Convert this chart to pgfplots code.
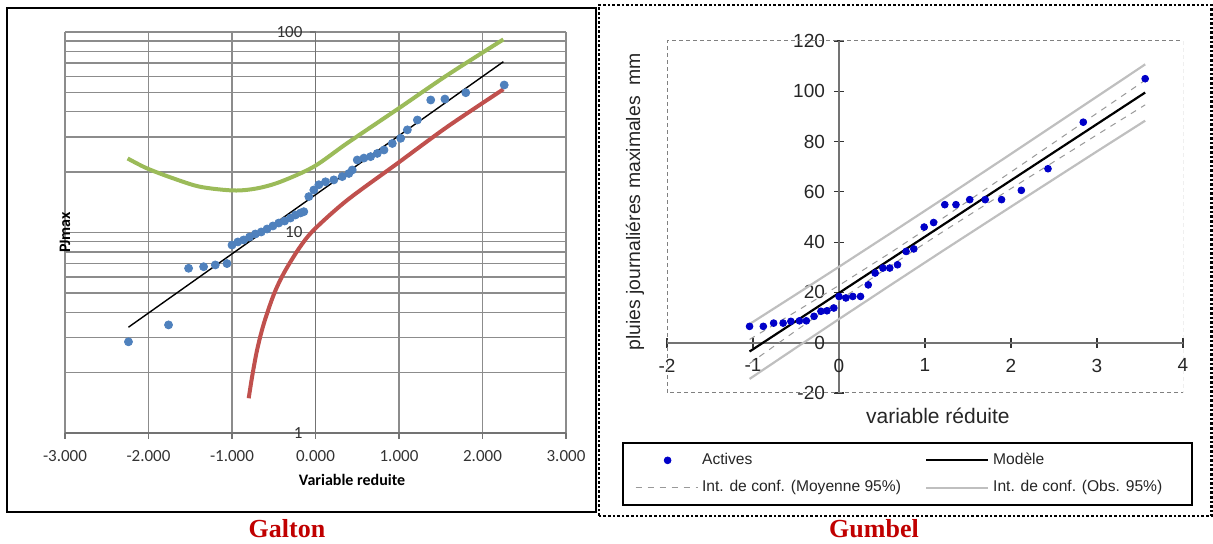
\documentclass[border=0pt]{standalone}
\usepackage{fontspec}
\usepackage{pgfplots}
\pgfplotsset{compat=1.18}
\newfontfamily\carlito{Carlito}
\newfontfamily\arialf{Liberation Sans}
\newfontfamily\timesf{Liberation Serif}
\definecolor{galtonblue}{RGB}{79,129,189}
\definecolor{galtongreen}{RGB}{155,187,89}
\definecolor{galtonred}{RGB}{192,80,77}
\definecolor{actblue}{RGB}{0,0,200}
\definecolor{titlered}{RGB}{192,0,0}
\pgfplotsset{
  longline legend/.style={legend image code/.code={\draw[##1] (0pt,0pt) -- (31pt,0pt);}},
  longmark legend/.style={legend image code/.code={\draw[mark repeat=2,mark phase=2,##1] plot coordinates {(0pt,0pt) (16pt,0pt) (32pt,0pt)};}},
}

\begin{document}
\begin{tikzpicture}
\useasboundingbox (0,0) rectangle (606.5pt,272pt);

% panel frames and titles
\draw[line width=1.1pt] (3.5pt,16pt) rectangle (298pt,268pt);
\draw[line width=1.3pt, densely dotted] (299.5pt,14pt) rectangle (605.8pt,269.5pt);
\node[font=\timesf\bfseries\fontsize{13}{15}\selectfont, text=titlered] at (143.5pt,7.5pt) {Galton};
\node[font=\timesf\bfseries\fontsize{13}{15}\selectfont, text=titlered] at (437pt,7.5pt) {Gumbel};

% ---------------- Galton ----------------
\begin{axis}[
  at={(32.5pt,55.5pt)}, anchor=south west,
  scale only axis, width=250.5pt, height=200.5pt,
  xmin=-3, xmax=3, ymin=1, ymax=100, ymode=log,
  axis x line=bottom, axis y line=center,
  axis line style={-, draw=black!55, line width=0.9pt},
  hide obscured x ticks=false, hide obscured y ticks=false,
  xtick={-3,-2,-1,0,1,2,3},
  xticklabels={-3.000,-2.000,-1.000,0.000,1.000,2.000,3.000},
  ytick={1,10,100}, yticklabels={1,10,100},
  minor ytick={2,3,4,5,6,7,8,9,20,30,40,50,60,70,80,90},
  xmajorgrids, ymajorgrids, yminorgrids,
  major grid style={draw=black!45, line width=0.7pt},
  minor grid style={draw=black!45, line width=0.7pt},
  tick align=outside, major tick length=3pt, minor tick length=0pt,
  tick style={draw=black!55, line width=0.7pt},
  ticklabel style={font=\carlito\fontsize{8.5}{10}\selectfont, text=black!80},
  /pgf/number format/assume math mode=true,
  xticklabel style={yshift=-2pt},
  every axis x label/.style={at={(axis description cs:0.573,0)}, anchor=center, yshift=-23.5pt, font=\carlito\bfseries\fontsize{8}{9.6}\selectfont},
  every axis y label/.style={at={(axis description cs:0,0.5)}, anchor=center, rotate=90, font=\carlito\bfseries\fontsize{8}{9.6}\selectfont},
  xlabel={Variable reduite}, ylabel={PJmax},
]
\addplot[galtongreen, line width=2pt, smooth] table {
x y
-2.25 23.4
-2.02 20.9
-1.70 18.6
-1.38 16.9
-0.98 16.2
-0.70 16.6
-0.42 17.9
-0.02 21.3
0.38 27.9
1.00 41.7
1.58 61.0
2.25 91.8
};
\addplot[galtonred, line width=2pt, smooth] table {
x y
-0.80 1.49
-0.76 1.90
-0.70 2.59
-0.62 3.50
-0.50 4.90
-0.38 6.26
-0.20 8.30
-0.02 10.3
0.38 14.5
0.98 22.1
1.58 33.7
2.25 51.8
};
\addplot[only marks, mark=*, mark size=2pt, galtonblue] table {
x y
-2.24 2.85
-1.76 3.46
-1.52 6.63
-1.34 6.75
-1.20 6.89
-1.06 7.00
-1.00 8.66
-0.93 8.97
-0.86 9.18
-0.79 9.50
-0.72 9.83
-0.65 10.06
-0.58 10.41
-0.51 10.78
-0.44 11.15
-0.37 11.41
-0.30 11.81
-0.24 12.23
-0.18 12.51
-0.14 12.7
-0.08 15.1
-0.02 16.3
0.04 17.3
0.12 17.9
0.22 18.3
0.32 19.0
0.40 19.7
0.44 20.5
0.50 23.0
0.58 23.5
0.66 23.9
0.74 24.8
0.82 25.8
0.92 27.8
1.02 29.5
1.10 32.5
1.22 36.4
1.38 45.8
1.55 46.3
1.80 49.8
2.26 54.4
};
\addplot[black, line width=0.7pt] table {
x y
-2.24 3.37
2.25 71.1
};
\end{axis}

% ---------------- Gumbel ----------------
\begin{axis}[
  at={(333.5pt,75.5pt)}, anchor=south west,
  scale only axis, width=258pt, height=176pt,
  xmin=-2, xmax=4, ymin=-20, ymax=120,
  axis lines=center, axis line style={-, draw=black!55, line width=1pt},
  hide obscured x ticks=false, hide obscured y ticks=false,
  xtick={-2,-1,0,1,2,3,4}, ytick={-20,0,20,40,60,80,100,120},
  tick align=center, major tick length=5pt,
  tick style={draw=black!80, line width=0.6pt},
  ticklabel style={font=\arialf\fontsize{9.5}{11}\selectfont, text=black!85},
  /pgf/number format/assume math mode=true,
  xticklabel style={yshift=-2pt}, yticklabel style={xshift=-1pt},
  every axis x label/.style={at={(axis description cs:0.525,0)}, anchor=center, yshift=-11.5pt, font=\arialf\fontsize{10.5}{12}\selectfont, text=black!85},
  every axis y label/.style={at={(axis description cs:-0.062,0.543)}, anchor=center, rotate=90, font=\arialf\fontsize{9.7}{11}\selectfont, text=black!85},
  xlabel={variable réduite}, ylabel={pluies journaliéres maximales\ \ mm},
  legend columns=2, legend cell align=left,
  legend style={at={(-0.0872,-0.1392)}, anchor=north west, draw=black, line width=1.1pt,
    font=\arialf\fontsize{7.8}{9}\selectfont, text=black!85, inner xsep=6pt, inner ysep=3pt,
    row sep=2.5pt, /tikz/every even column/.append style={column sep=10pt}},
]
\draw[black!50, dash pattern=on 2pt off 1.5pt, line width=0.5pt] (rel axis cs:0,0) rectangle (rel axis cs:1,1);
\addplot[black!25, line width=1.1pt, forget plot] table {
x y
-1.04 7.4
-0.5 19.2
0 30.2
0.6 43.54
1.2 56.98
2 75.1
3 97.9
3.56 110.7
};
\addplot[black!25, line width=1.1pt, forget plot] table {
x y
-1.04 -14.4
-0.5 -2.0
0 9.4
0.6 22.94
1.2 36.38
2 54.1
3 76.1
3.56 88.3
};
\addplot[black!40, dashed, line width=0.5pt, forget plot] table {
x y
-1.04 1.3
-0.5 12.4
0 22.8
0.6 35.84
1.2 49.38
2 67.9
3 91.3
3.56 104.4
};
\addplot[black!40, dashed, line width=0.5pt, forget plot] table {
x y
-1.04 -8.3
-0.5 4.8
0 16.8
0.6 30.64
1.2 43.98
2 61.3
3 82.7
3.56 94.6
};
\addplot[only marks, mark=*, mark size=1.7pt, actblue, forget plot] table {
x y
-1.04 6.5
-0.88 6.5
-0.76 7.8
-0.65 7.8
-0.56 8.5
-0.46 8.7
-0.38 8.7
-0.29 10.5
-0.21 12.5
-0.14 12.7
-0.06 13.8
0.00 18.4
0.08 17.8
0.16 18.4
0.25 18.4
0.34 23.0
0.42 27.7
0.51 29.7
0.59 29.7
0.68 31.0
0.78 36.3
0.87 37.3
0.99 46.0
1.10 47.8
1.23 54.9
1.36 54.9
1.52 56.9
1.70 56.9
1.89 56.9
2.12 60.6
2.43 69.2
2.84 87.7
3.56 105.0
};
\addplot[black, line width=1.1pt, forget plot] table {
x y
-1.04 -3.5
3.56 99.5
};
\addlegendimage{only marks, mark=*, mark size=1.7pt, actblue, line width=0.4pt, longmark legend}
\addlegendentry{Actives}
\addlegendimage{black, line width=1.1pt, longline legend}
\addlegendentry{Modèle}
\addlegendimage{black!40, dashed, line width=0.5pt, longline legend}
\addlegendentry{Int. de conf. (Moyenne 95\%)}
\addlegendimage{black!25, line width=1.1pt, longline legend}
\addlegendentry{Int. de conf. (Obs. 95\%)\kern 7pt}
\end{axis}
\end{tikzpicture}
\end{document}
